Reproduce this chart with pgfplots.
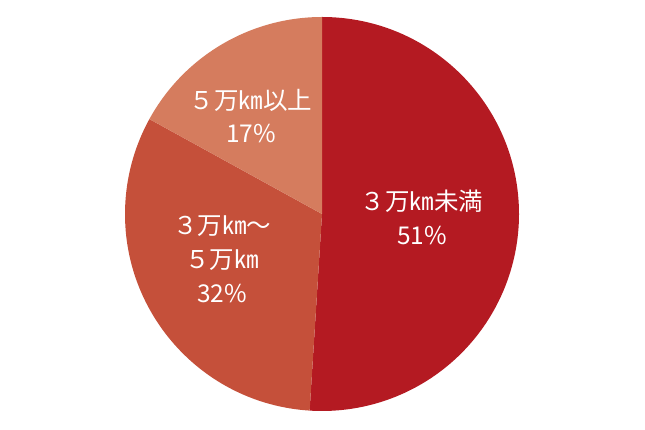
\documentclass[border=0pt]{standalone}
\usepackage{pgfplots}
\usepackage{pgfplotstable}
\pgfplotsset{compat=1.18}
\usepackage{fontspec}
\setmainfont{Noto Sans CJK JP}

\definecolor{sliceA}{HTML}{B41A22}
\definecolor{sliceB}{HTML}{C5503A}
\definecolor{sliceC}{HTML}{D57C5E}

% share of each class, clockwise from the top
\pgfplotstableread[col sep=comma]{
value,color
51,sliceA
32,sliceB
17,sliceC
}\piedata

\begin{document}
\begin{tikzpicture}
\begin{axis}[
    scale only axis,
    width=645pt, height=430pt,
    xmin=0, xmax=645, ymin=0, ymax=430,
    hide axis, clip=false,
]
\addplot[draw=none] coordinates {(0,0) (645,430)};
\def\startang{90}
\pgfplotsforeachungrouped \i in {0,1,2} {
    \pgfplotstablegetelem{\i}{value}\of\piedata \let\v\pgfplotsretval
    \pgfplotstablegetelem{\i}{color}\of\piedata \let\c\pgfplotsretval
    \pgfmathsetmacro\endang{\startang-3.6*\v}
    \edef\temp{\noexpand\fill[\c] (axis cs:322,216) -- ++(\startang:197pt)
        arc[start angle=\startang, end angle=\endang, radius=197pt] -- cycle;}
    \temp
    \global\let\startang\endang
}
\node[white, align=center, font=\fontsize{24.5}{34}\selectfont] at (axis cs:422,213) {３万㎞未満\\51\%};
\node[white, align=center, font=\fontsize{24.5}{33}\selectfont] at (axis cs:251,314) {５万㎞以上\\17\%};
\node[white, align=center, font=\fontsize{24.5}{34}\selectfont] at (axis cs:222,171) {３万㎞～\\５万㎞\\32\%};
\end{axis}
\end{tikzpicture}
\end{document}
